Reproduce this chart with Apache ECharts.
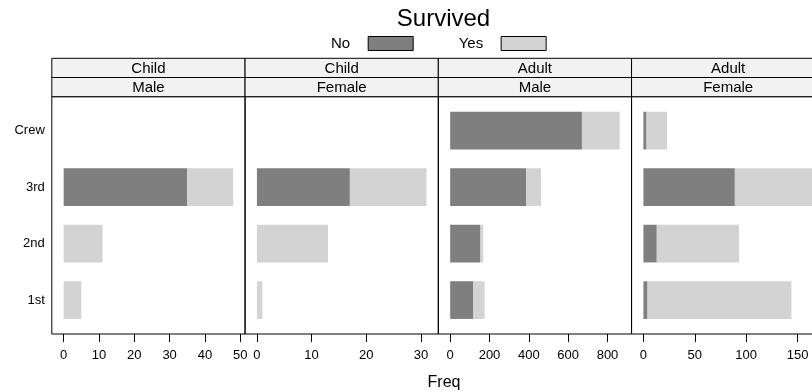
<!DOCTYPE html>
<html>
<head>
<meta charset="utf-8">
<script src="https://cdn.jsdelivr.net/npm/echarts@6/dist/echarts.min.js"></script>
<style>
  html, body { margin: 0; padding: 0; background: #fff; overflow: hidden; }
  #chart { width: 830px; height: 392px; }
</style>
</head>
<body>
<div id="chart"></div>
<script>
// Titanic passengers by class, split by age and sex, stacked by survival
const classes = ['1st', '2nd', '3rd', 'Crew'];
const ageLabels = ['Child', 'Child', 'Adult', 'Adult'];
const sexLabels = ['Male', 'Female', 'Male', 'Female'];
const survivedLevels = ['No', 'Yes'];

const childMaleNo = [0, 0, 35, 0];
const childMaleYes = [5, 11, 13, 0];
const childFemaleNo = [0, 0, 17, 0];
const childFemaleYes = [1, 13, 14, 0];
const adultMaleNo = [118, 154, 387, 670];
const adultMaleYes = [57, 14, 75, 192];
const adultFemaleNo = [4, 13, 89, 3];
const adultFemaleYes = [140, 80, 76, 20];

const tickValues = [
  [0, 10, 20, 30, 40, 50],
  [0, 10, 20, 30],
  [0, 200, 400, 600, 800],
  [0, 50, 100, 150]
];

const panels = [
  [childMaleNo, childMaleYes],
  [childFemaleNo, childFemaleYes],
  [adultMaleNo, adultMaleYes],
  [adultFemaleNo, adultFemaleYes]
];

const colors = ['#7f7f7f', '#d3d3d3'];
const FONT = 'Liberation Sans, Arial, Helvetica, sans-serif';

// panel geometry
const panelLeft0 = 51.8;
const panelW = 193.25;
const panelTop = 96.7;
const panelBottom = 334;
const stripTop = 58.3;
const stripH = 19.2;
// category bands take 4 of 4.2 units of the panel height
const unit = (panelBottom - panelTop) / 4.2;
const dataTop = panelTop + 0.1 * unit;
const dataH = 4 * unit;

const grids = [], xAxes = [], yAxes = [], series = [], graphics = [];

panels.forEach((pair, p) => {
  const left = panelLeft0 + p * panelW;
  // extend the scale 7% beyond the largest stacked total
  const totals = pair[0].map((v, i) => v + pair[1][i]);
  const maxTotal = Math.max.apply(null, totals);
  const pad = 0.07 * maxTotal;

  // data grid
  grids.push({ left: left, top: dataTop, width: panelW, height: dataH, containLabel: false });
  // frame grid
  grids.push({
    left: left, top: panelTop, width: panelW, height: panelBottom - panelTop,
    show: true, borderColor: '#000', borderWidth: 1, backgroundColor: 'transparent', z: 5
  });

  const gi = 2 * p;
  xAxes.push({
    type: 'value', gridIndex: gi, min: -pad, max: maxTotal + pad,
    offset: panelBottom - (dataTop + dataH),
    splitLine: { show: false },
    axisLine: { show: false },
    axisTick: { show: true, length: 8, inside: false, lineStyle: { color: '#000', width: 1 },
                customValues: tickValues[p] },
    axisLabel: { show: true, margin: 15, color: '#000', fontSize: 13, fontFamily: FONT,
                 customValues: tickValues[p] }
  });
  yAxes.push({
    type: 'category', gridIndex: gi, data: classes,
    axisLine: { show: false }, axisTick: { show: false },
    splitLine: { show: false },
    axisLabel: { show: p === 0, margin: 7, color: '#000', fontSize: 13, fontFamily: FONT }
  });
  // hidden axes for the frame grid
  xAxes.push({ type: 'value', gridIndex: gi + 1, show: false, min: 0, max: 1 });
  yAxes.push({ type: 'value', gridIndex: gi + 1, show: false, min: 0, max: 1 });

  pair.forEach((vals, s) => {
    series.push({
      name: survivedLevels[s], type: 'bar', stack: 'panel' + p,
      xAxisIndex: gi, yAxisIndex: gi,
      data: vals, barWidth: '66.7%',
      itemStyle: { color: colors[s] },
      emphasis: { disabled: true },
      silent: true, animation: false
    });
  });

  // two strips: age on top, sex below
  [ageLabels[p], sexLabels[p]].forEach((txt, r) => {
    graphics.push({
      type: 'rect',
      shape: { x: left, y: stripTop + r * stripH, width: panelW, height: stripH },
      style: { fill: '#f2f2f2', stroke: '#000', lineWidth: 1 },
      z: 10
    });
    graphics.push({
      type: 'text',
      x: left + panelW / 2, y: stripTop + r * stripH + stripH / 2 + 0.5,
      style: { text: txt, fill: '#000', font: '15px ' + FONT, textAlign: 'center', textVerticalAlign: 'middle' },
      z: 11
    });
  });
});

const chart = echarts.init(document.getElementById('chart'), null, { renderer: 'canvas' });
chart.setOption({
  animation: false,
  backgroundColor: '#fff',
  textStyle: { fontFamily: FONT },
  title: [
    { text: 'Survived', left: 438.5, top: 2, textAlign: 'center',
      textStyle: { fontSize: 24, fontWeight: 'normal', color: '#000', fontFamily: FONT } },
    { text: 'Freq', left: 439, top: 370, textAlign: 'center',
      textStyle: { fontSize: 16, fontWeight: 'normal', color: '#000', fontFamily: FONT } }
  ],
  legend: {
    data: survivedLevels, left: 326, top: 31, orient: 'horizontal', align: 'right',
    icon: 'rect', itemWidth: 45, itemHeight: 14, itemGap: 45,
    itemStyle: { borderColor: '#000', borderWidth: 1 },
    textStyle: { fontSize: 15, color: '#000', fontFamily: FONT, padding: [0, 13, 0, 0] },
    selectedMode: false
  },
  grid: grids,
  xAxis: xAxes,
  yAxis: yAxes,
  series: series,
  graphic: graphics
});
</script>
</body>
</html>
